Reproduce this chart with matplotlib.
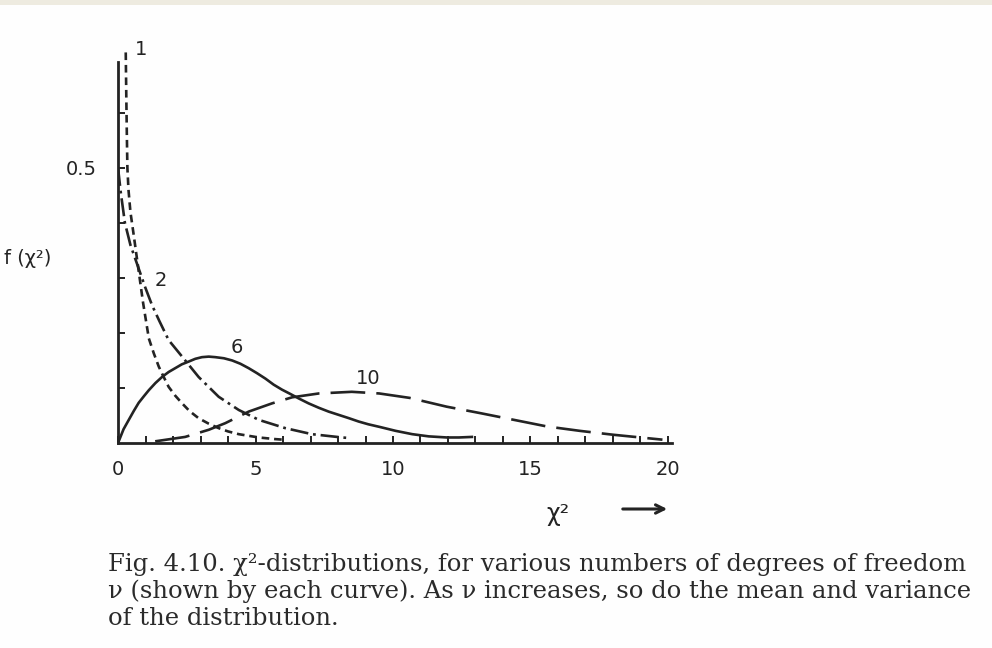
import matplotlib
matplotlib.use("Agg")
import matplotlib.pyplot as plt
from matplotlib.patches import Rectangle

plt.rcParams['lines.scale_dashes'] = False
plt.rcParams['font.family'] = ['DejaVu Sans']

# ---- data ----
nu1_x = [0.28, 0.30, 0.32, 0.34, 0.38, 0.45, 0.55, 0.73, 0.91, 1.12, 1.30, 1.48,
         1.66, 1.84, 2.08, 2.33, 2.60, 2.93, 3.30, 3.66, 4.00, 4.39, 4.75, 5.12, 5.72, 6.0]
nu1_y = [0.71, 0.63, 0.56, 0.50, 0.46, 0.42, 0.385, 0.32, 0.255, 0.19, 0.163, 0.139,
         0.120, 0.102, 0.086, 0.072, 0.058, 0.045, 0.035, 0.027, 0.021, 0.016, 0.013, 0.010, 0.007, 0.006]

nu2_x = [0, 0.1, 0.25, 0.45, 0.73, 0.98, 1.24, 1.5, 1.84, 2.33, 2.93, 3.66,
         4.39, 5.12, 6.08, 7.05, 8.15, 8.4]
nu2_y = [0.5, 0.455, 0.40, 0.36, 0.32, 0.284, 0.25, 0.222, 0.187, 0.157, 0.120, 0.084,
         0.060, 0.042, 0.027, 0.016, 0.010, 0.009]

nu6_x = [0, 0.2, 0.39, 0.57, 0.75, 0.94, 1.12, 1.36, 1.6, 1.84, 2.08, 2.32, 2.57, 2.81,
         3.05, 3.3, 3.54, 3.85, 4.15, 4.45, 4.75, 5.05, 5.36, 5.66, 5.96, 6.27, 6.57,
         6.93, 7.3, 7.66, 8.03, 8.4, 8.75, 9.1, 9.53, 10.1, 10.7, 11.3, 11.96, 12.4, 12.87]
nu6_y = [0, 0.025, 0.042, 0.058, 0.073, 0.085, 0.096, 0.109, 0.120, 0.129, 0.136, 0.143, 0.148, 0.153,
         0.156, 0.157, 0.156, 0.154, 0.150, 0.144, 0.136, 0.127, 0.117, 0.106, 0.097, 0.089, 0.081,
         0.072, 0.064, 0.057, 0.051, 0.045, 0.039, 0.034, 0.029, 0.022, 0.016, 0.012, 0.010, 0.010, 0.011]

nu10_x = [1.35, 2.44, 3.3, 3.9, 4.75, 5.6, 6.33, 7.3, 8.5, 9.5, 10.6, 11.95, 13.2,
          14.4, 15.6, 16.8, 18.0, 19.2, 19.8]
nu10_y = [0.003, 0.011, 0.024, 0.036, 0.057, 0.072, 0.083, 0.090, 0.093, 0.090, 0.082, 0.066, 0.054,
          0.042, 0.030, 0.022, 0.015, 0.009, 0.006]

curve_labels = ["1", "2", "6", "10"]
x_ticks = [0, 5, 10, 15, 20]
x_minor = list(range(0, 21))
y_ticks = [0.1, 0.2, 0.3, 0.4, 0.5, 0.6]
y_tick_labels = ["", "", "", "", "0.5", ""]

caption = ["Fig. 4.10. \u03c7\u00b2-distributions, for various numbers of degrees of freedom",
           "\u03bd (shown by each curve). As \u03bd increases, so do the mean and variance",
           "of the distribution."]

# ---- figure ----
ink = "#232323"
fig = plt.figure(figsize=(9.92, 6.48), dpi=100)
fig.patch.set_facecolor("#fefefe")
fig.add_artist(Rectangle((0, 1 - 5 / 648), 1, 5 / 648, transform=fig.transFigure,
                         facecolor="#eeebe0", edgecolor="none"))

ax = fig.add_axes([0.119, 0.3164, 0.5585, 0.588])
ax.set_facecolor("none")
ax.set_xlim(0, 20.15)
ax.set_ylim(0, 0.6927)

lw = 1.9
ax.plot(nu1_x, nu1_y, color=ink, lw=lw, dashes=(5.5, 3.5), clip_on=False)
ax.plot(nu2_x, nu2_y, color=ink, lw=lw, dashes=(13, 3.5, 2, 3.5))
ax.plot(nu6_x, nu6_y, color=ink, lw=lw, solid_joinstyle="round")
ax.plot(nu10_x, nu10_y, color=ink, lw=lw, dashes=(25, 8))

for s in ["top", "right"]:
    ax.spines[s].set_visible(False)
for s in ["left", "bottom"]:
    ax.spines[s].set_linewidth(2.0)
    ax.spines[s].set_color(ink)

ax.set_xticks(x_minor, minor=True)
ax.set_xticks(x_ticks)
ax.set_xticklabels([str(t) for t in x_ticks])
ax.set_yticks(y_ticks)
ax.set_yticklabels(y_tick_labels)
ax.tick_params(axis="x", which="both", direction="in", length=5, width=1.4, color=ink,
               labelsize=14, pad=12, labelcolor=ink)
ax.tick_params(axis="y", which="both", direction="in", length=5, width=1.4, color=ink,
               labelsize=14, pad=15, labelcolor=ink)

# curve labels
lab_pos = [(0.84, 0.715), (1.56, 0.296), (4.33, 0.173), (9.1, 0.118)]
for t, (x, y) in zip(curve_labels, lab_pos):
    ax.text(x, y, t, fontsize=14, color=ink, ha="center", va="center", clip_on=False)

# axis titles
fig.text(4 / 992, 1 - 258 / 648, "f (\u03c7\u00b2)", fontsize=14, color=ink,
         ha="left", va="center")
fig.text(558 / 992, 1 - 514 / 648, "\u03c7\u00b2", fontsize=17, color=ink,
         ha="center", va="center")
ax.annotate("", xy=(670 / 992, 1 - 509 / 648), xytext=(620 / 992, 1 - 509 / 648),
            xycoords="figure fraction", textcoords="figure fraction",
            arrowprops=dict(arrowstyle="->,head_length=0.6,head_width=0.3", lw=2.2, color=ink))

# caption
base = [571, 598, 625]
for line, b in zip(caption, base):
    fig.text(108 / 992, 1 - b / 648, line, fontsize=17.5, family="DejaVu Serif",
             color="#2a2a2a", ha="left", va="baseline")

fig.savefig("out.png", dpi=100, facecolor=fig.get_facecolor())
